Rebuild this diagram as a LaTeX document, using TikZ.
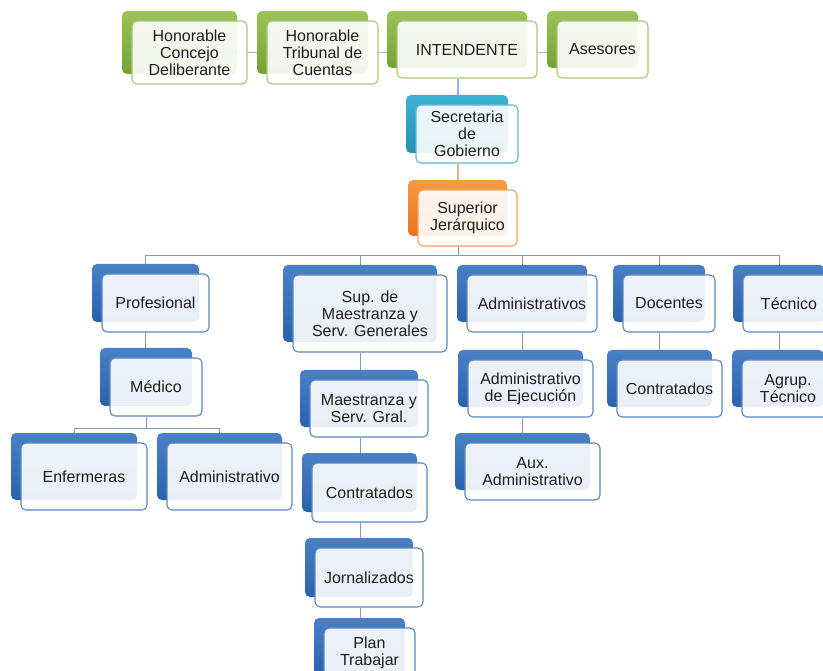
\documentclass[tikz,border=0pt]{standalone}
\usepackage{fontspec}
\setmainfont{Liberation Sans}
\usetikzlibrary{shadows,backgrounds}
\definecolor{txt}{HTML}{1E1E1E}
\definecolor{gtop}{HTML}{9CC25A}
\definecolor{gbot}{HTML}{76A234}
\definecolor{gbord}{HTML}{A7C671}
\definecolor{ctop}{HTML}{3DB3D3}
\definecolor{cbot}{HTML}{2391B3}
\definecolor{cbord}{HTML}{5BB7D1}
\definecolor{otop}{HTML}{F89A45}
\definecolor{obot}{HTML}{E8741C}
\definecolor{obord}{HTML}{F3A060}
\definecolor{btop}{HTML}{4A80C4}
\definecolor{bbot}{HTML}{2A62AE}
\definecolor{bbord}{HTML}{5A86C0}
\definecolor{lnblue}{HTML}{92B8DE}
\definecolor{lntan}{HTML}{D9B48E}
\definecolor{lngray}{HTML}{7F98BC}
\begin{document}
\begin{tikzpicture}[x=1pt,y=-1pt,
  font=\fontsize{16}{17}\selectfont,
  card/.style={rounded corners=5pt, draw, line width=1.1pt, fill=white,
    fill opacity=0.9, text opacity=1, text=txt, align=center, inner sep=0pt},
  gcard/.style={card, draw=gbord, general shadow={shadow xshift=-10pt, shadow yshift=10pt,
    fill opacity=1, draw=none, top color=gtop, bottom color=gbot}},
  ccard/.style={card, draw=cbord, general shadow={shadow xshift=-10pt, shadow yshift=10pt,
    fill opacity=1, draw=none, top color=ctop, bottom color=cbot}},
  ocard/.style={card, draw=obord, general shadow={shadow xshift=-10pt, shadow yshift=10pt,
    fill opacity=1, draw=none, top color=otop, bottom color=obot}},
  bcard/.style={card, draw=bbord, general shadow={shadow xshift=-10pt, shadow yshift=10pt,
    fill opacity=1, draw=none, top color=btop, bottom color=bbot}},
  sz/.style 2 args={minimum width=#1pt, minimum height=#2pt},
  link/.style={draw=lngray, line width=1pt},
  toplink/.style={draw=lnblue, line width=1.6pt},
  tanlink/.style={draw=lntan, line width=1.4pt}
]
\useasboundingbox (0,0) rectangle (823,671);
\clip (0,0) rectangle (823,671);

% top row
\node[gcard, sz={115}{63}] (concejo) at (189.5,52.5) {Honorable\\Concejo\\Deliberante};
\node[gcard, sz={111}{63}] (tribunal) at (322.5,52.5) {Honorable\\Tribunal de\\Cuentas};
\node[gcard, sz={140}{57}] (intend) at (467,49.5) {INTENDENTE};
\node[gcard, sz={91}{57}] (asesores) at (602.5,49.5) {Asesores};

\node[ccard, sz={102}{58}] (sec) at (467,134) {Secretaria\\de\\Gobierno};
\node[ocard, sz={99}{56}] (sup) at (467.5,218) {Superior\\Jerárquico};

% second row
\node[bcard, sz={107}{58}] (prof) at (155.5,303) {Profesional};
\node[bcard, sz={154}{77}] (maesg) at (370,313.5) {Sup. de\\Maestranza y\\Serv. Generales};
\node[bcard, sz={130}{57}] (admins) at (532,303.5) {Administrativos};
\node[bcard, sz={92}{57}] (docentes) at (669,303.5) {Docentes};
\node[bcard, sz={92}{57}] (tecnico) at (789,303.5) {Técnico};

% third row
\node[bcard, sz={92}{58}] (medico) at (156,387) {Médico};
\node[bcard, sz={125}{57}] (adejec) at (530.5,388.5) {Administrativo\\de Ejecución};
\node[bcard, sz={105}{57}] (contr1) at (669.5,388.5) {Contratados};
\node[bcard, sz={92}{57}] (agrup) at (788,388.5) {Agrup.\\Técnico};
\node[bcard, sz={118}{57}] (msg) at (369,408.5) {Maestranza y\\Serv. Gral.};

% lower rows
\node[bcard, sz={126}{67}] (enf) at (84,476.5) {Enfermeras};
\node[bcard, sz={125}{67}] (admin) at (229.5,476.5) {Administrativo};
\node[bcard, sz={135}{57}] (aux) at (532.5,471.5) {Aux.\\Administrativo};
\node[bcard, sz={115}{59}] (contr2) at (369.5,492.5) {Contratados};
\node[bcard, sz={108}{59}] (jorn) at (369,577.5) {Jornalizados};
\node[bcard, sz={91}{58}] (plan) at (369.5,657) {Plan\\Trabajar\rule[-12pt]{0pt}{12pt}};

\begin{scope}[on background layer]
  \draw[toplink] (concejo.center) -- (asesores.center |- concejo.center);
  \draw[toplink] ([xshift=-9pt]intend.south) -- ([xshift=-9pt]intend.south |- sec.north);
  \draw[tanlink] ([xshift=-9pt]sec.south) -- ([xshift=-9pt]sec.south |- sup.north);
  \coordinate (bus) at ([xshift=-9pt]sup.south |- 0,256);
  \draw[link] ([xshift=-9pt]sup.south) -- (bus);
  \foreach \c in {prof,maesg,admins,docentes,tecnico}
    \draw[link] (bus) -| ([xshift=-10pt]\c.north);
  \draw[link] ([xshift=-10pt]prof.south) -- ([xshift=-10pt]prof.south |- medico.north);
  \coordinate (mbus) at ([xshift=-10pt]medico.south |- 0,428);
  \draw[link] ([xshift=-10pt]medico.south) -- (mbus);
  \draw[link] (mbus) -| ([xshift=-10pt]enf.north);
  \draw[link] (mbus) -| ([xshift=-10pt]admin.north);
  \draw[link] ([xshift=-10pt]maesg.south) -- ([xshift=-10pt]maesg.south |- msg.north);
  \draw[link] ([xshift=-10pt]maesg.south |- msg.south) -- ([xshift=-10pt]maesg.south |- contr2.north);
  \draw[link] ([xshift=-10pt]maesg.south |- contr2.south) -- ([xshift=-10pt]maesg.south |- jorn.north);
  \draw[link] ([xshift=-10pt]maesg.south |- jorn.south) -- ([xshift=-10pt]maesg.south |- plan.north);
  \draw[link] ([xshift=-10pt]admins.south) -- ([xshift=-10pt]admins.south |- adejec.north);
  \draw[link] ([xshift=-10pt]admins.south |- adejec.south) -- ([xshift=-10pt]admins.south |- aux.north);
  \draw[link] ([xshift=-10pt]docentes.south) -- ([xshift=-10pt]docentes.south |- contr1.north);
  \draw[link] ([xshift=-10pt]tecnico.south) -- ([xshift=-10pt]tecnico.south |- agrup.north);
\end{scope}
\end{tikzpicture}
\end{document}
